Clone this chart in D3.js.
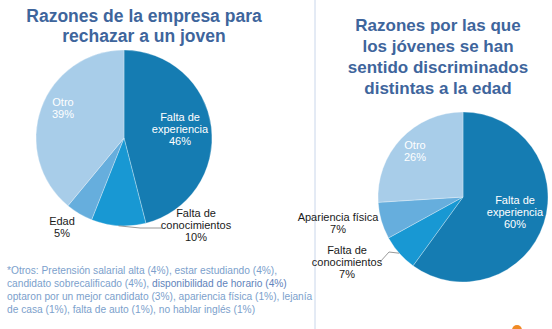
<!DOCTYPE html>
<html>
<head>
<meta charset="utf-8">
<script src="https://cdn.jsdelivr.net/npm/d3@7"></script>
<style>
  html, body { margin: 0; padding: 0; background: #fff; }
  svg { display: block; font-family: "Liberation Sans", Arial, sans-serif; }
</style>
</head>
<body>
<svg id="chart" width="552" height="329"></svg>
<script>
// ---- Data ----
const leftCategories = ["Falta de experiencia", "Falta de conocimientos", "Edad", "Otro"];
const leftValues = [46, 10, 5, 39];
const rightCategories = ["Falta de experiencia", "Falta de conocimientos", "Apariencia física", "Otro"];
const rightValues = [60, 7, 7, 26];
const leftTitle = ["Razones de la empresa para", "rechazar a un joven"];
const rightTitle = ["Razones por las que", "los jóvenes se han", "sentido discriminados", "distintas a la edad"];
const footnoteLines = [
  ["*Otros: Pretensión salarial alta (4%), estar estudiando (4%),"],
  ["candidato sobrecalificado (4%), ", "disponibilidad de horario (4%)"],
  ["optaron por un mejor candidato (3%), apariencia física (1%), lejanía"],
  ["de casa (1%), falta de auto (1%), no hablar inglés (1%)"]
];

// ---- Styles ----
const sliceColors = ["#157cb2", "#1898d3", "#66aedd", "#a8cde9"];
const titleColor = "#3e659c";
const footColor = "#7c9fcc";
const footStrong = "#5f84bb";

const svg = d3.select("#chart");

// separator line
svg.append("line").attr("x1", 315).attr("x2", 315).attr("y1", 0).attr("y2", 329)
  .attr("stroke", "#c9d6ea").attr("stroke-width", 1);

function drawPie(cx, cy, r, cats, vals, labelSpec) {
  const g = svg.append("g").attr("transform", `translate(${cx},${cy})`);
  const pie = d3.pie().sort(null).value(d => d.v).startAngle(0).endAngle(2 * Math.PI);
  const arc = d3.arc().innerRadius(0).outerRadius(r);
  const color = d3.scaleOrdinal().domain(cats).range(sliceColors);
  const arcs = pie(cats.map((c, i) => ({ c, v: vals[i] })));
  g.selectAll("path").data(arcs).join("path")
    .attr("d", arc).attr("fill", d => color(d.data.c))
    .attr("stroke", "#ffffff").attr("stroke-width", 0.3);
  arcs.forEach((a, i) => {
    const s = labelSpec[i];
    const lines = s.lines.concat([a.data.v + "%"]);
    const t = svg.append("text").attr("text-anchor", "middle")
      .attr("font-size", 11).attr("fill", s.color);
    lines.forEach((ln, k) => {
      t.append("tspan").attr("x", s.x).attr("y", s.y + k * s.lh).attr("dy", "0.35em").text(ln);
    });
    if (s.leader) {
      const ang = (a.startAngle + a.endAngle) / 2;
      const px = cx + Math.sin(ang) * r, py = cy - Math.cos(ang) * r;
      svg.append("polyline")
        .attr("points", `${px},${py} ${s.leader[0]},${s.leader[1]} ${s.leader[2]},${s.leader[3]}`)
        .attr("fill", "none").attr("stroke", "#7f7f7f").attr("stroke-width", 0.8);
    }
  });
}

drawPie(124, 138, 88, leftCategories, leftValues, [
  { x: 180, y: 117, lh: 12, color: "#ffffff", lines: ["Falta de", "experiencia"] },
  { x: 196, y: 213, lh: 12, color: "#1a1a1a", lines: ["Falta de", "conocimientos"], leader: [140, 228, 162, 228] },
  { x: 62, y: 221, lh: 12, color: "#1a1a1a", lines: ["Edad"] },
  { x: 63, y: 102, lh: 12, color: "#ffffff", lines: ["Otro"] }
]);

drawPie(463, 197, 85, rightCategories, rightValues, [
  { x: 515, y: 200, lh: 12, color: "#ffffff", lines: ["Falta de", "experiencia"] },
  { x: 347, y: 250, lh: 12, color: "#1a1a1a", lines: ["Falta de", "conocimientos"], leader: [389, 252, 380, 262] },
  { x: 338, y: 217, lh: 12, color: "#1a1a1a", lines: ["Apariencia física"] },
  { x: 415, y: 145, lh: 12, color: "#ffffff", lines: ["Otro"] }
]);

// titles
const lt = svg.append("text").attr("text-anchor", "middle").attr("font-weight", "bold")
  .attr("font-size", 17.5).attr("fill", titleColor);
leftTitle.forEach((ln, k) => lt.append("tspan").attr("x", 144).attr("y", 16 + k * 19.5).attr("dy", "0.35em").text(ln));
const rt = svg.append("text").attr("text-anchor", "middle").attr("font-weight", "bold")
  .attr("font-size", 17).attr("fill", titleColor);
rightTitle.forEach((ln, k) => rt.append("tspan").attr("x", 438).attr("y", 25 + k * 21).attr("dy", "0.35em").text(ln));

// footnote
footnoteLines.forEach((parts, k) => {
  const t = svg.append("text").attr("font-size", 10.2).attr("fill", footColor)
    .attr("x", 7).attr("y", 270 + k * 13).attr("dy", "0.35em");
  parts.forEach((p, j) => {
    const ts = t.append("tspan").text(p);
    if (j === 1) ts.attr("fill", footStrong);
  });
});

// small orange mark bottom right
svg.append("circle").attr("cx", 517).attr("cy", 330).attr("r", 5).attr("fill", "#f08a24");
</script>
</body>
</html>
